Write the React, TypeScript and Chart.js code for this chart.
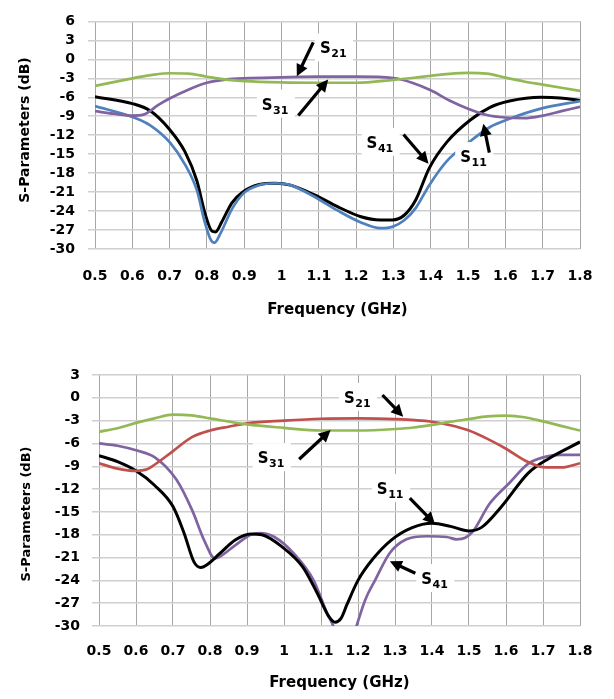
import React, { useEffect, useRef } from "react";
import { Chart, registerables } from "chart.js";

Chart.register(...registerables);

// ---------- shared axis ticks ----------
const X_TICK_VALUES = [0.5, 0.6, 0.7, 0.8, 0.9, 1.0, 1.1, 1.2, 1.3, 1.4, 1.5, 1.6, 1.7, 1.8];
const X_TICK_LABELS = ["0.5", "0.6", "0.7", "0.8", "0.9", "1", "1.1", "1.2", "1.3", "1.4", "1.5", "1.6", "1.7", "1.8"];

// ---------- top chart data ----------
const TOP_S31_F = [0.5, 0.55, 0.6, 0.65, 0.7, 0.75, 0.8, 0.85, 0.9, 1.0, 1.1, 1.2, 1.3, 1.35, 1.4, 1.45, 1.5, 1.55, 1.6, 1.65, 1.7, 1.75, 1.8];
const TOP_S31_DB = [-4.2, -3.6, -3.0, -2.5, -2.2, -2.25, -2.75, -3.2, -3.45, -3.65, -3.7, -3.7, -3.25, -2.95, -2.6, -2.3, -2.15, -2.25, -2.9, -3.5, -4.0, -4.5, -5.0];

const TOP_S21_F = [0.5, 0.55, 0.6, 0.63, 0.67, 0.7, 0.75, 0.8, 0.85, 0.9, 1.0, 1.1, 1.2, 1.3, 1.35, 1.4, 1.45, 1.5, 1.55, 1.6, 1.65, 1.7, 1.75, 1.8];
const TOP_S21_DB = [-8.2, -8.6, -8.9, -8.75, -7.2, -6.2, -4.8, -3.7, -3.2, -3.0, -2.85, -2.75, -2.75, -2.95, -3.7, -4.9, -6.5, -7.8, -8.8, -9.2, -9.3, -8.9, -8.2, -7.5];

const TOP_S11_F = [0.5, 0.6, 0.647, 0.7, 0.741, 0.773, 0.794, 0.809, 0.82, 0.835, 0.867, 0.898, 0.94, 0.982, 1.024, 1.087, 1.15, 1.213, 1.265, 1.297, 1.328, 1.36, 1.396, 1.443, 1.496, 1.559, 1.611, 1.695, 1.8];
const TOP_S11_DB = [-7.4, -9.1, -10.4, -13.1, -16.6, -20.7, -25.7, -28.4, -29.0, -27.7, -23.7, -21.2, -19.9, -19.6, -19.9, -21.7, -23.9, -25.8, -26.7, -26.5, -25.5, -23.5, -19.9, -16.1, -13.4, -10.7, -9.4, -7.8, -6.6];

const TOP_S41_F = [0.5, 0.6, 0.647, 0.7, 0.741, 0.773, 0.794, 0.814, 0.823, 0.84, 0.867, 0.898, 0.94, 0.982, 1.024, 1.087, 1.15, 1.213, 1.265, 1.297, 1.328, 1.36, 1.396, 1.443, 1.506, 1.559, 1.611, 1.695, 1.747, 1.8];
const TOP_S41_DB = [-5.9, -7.0, -8.1, -11.1, -14.6, -19.2, -24.2, -27.2, -27.3, -25.7, -22.7, -20.9, -19.8, -19.6, -19.9, -21.4, -23.3, -24.9, -25.4, -25.4, -24.7, -22.2, -17.2, -13.1, -9.6, -7.6, -6.6, -6.0, -6.1, -6.5];

const TOP_LABELS = ["21", "31", "41", "11"];
const TOP_LABEL_X = [1.103, 0.947, 1.228, 1.479];
const TOP_LABEL_Y = [1.88, -7.0, -13.05, -15.3];
const TOP_ARROW_X0 = [1.085, 1.045, 1.327, 1.557];
const TOP_ARROW_Y0 = [2.68, -8.87, -11.9, -14.75];
const TOP_ARROW_X1 = [1.041, 1.125, 1.394, 1.541];
const TOP_ARROW_Y1 = [-2.69, -3.2, -16.5, -10.2];

// ---------- bottom chart data ----------
const BOT_S31_F = [0.5, 0.55, 0.6, 0.65, 0.7, 0.75, 0.8, 0.9, 1.0, 1.1, 1.2, 1.3, 1.35, 1.4, 1.45, 1.5, 1.55, 1.6, 1.65, 1.7, 1.8];
const BOT_S31_DB = [-4.46, -4.0, -3.3, -2.7, -2.2, -2.3, -2.7, -3.5, -3.95, -4.3, -4.3, -4.1, -3.9, -3.55, -3.15, -2.8, -2.45, -2.35, -2.55, -3.1, -4.3];

const BOT_S21_F = [0.5, 0.55, 0.6, 0.63, 0.65, 0.7, 0.75, 0.8, 0.85, 0.9, 1.0, 1.1, 1.2, 1.3, 1.4, 1.45, 1.5, 1.55, 1.6, 1.65, 1.7, 1.75, 1.8];
const BOT_S21_DB = [-8.6, -9.3, -9.6, -9.4, -8.8, -7.0, -5.2, -4.3, -3.8, -3.35, -3.0, -2.75, -2.7, -2.8, -3.15, -3.6, -4.3, -5.4, -6.7, -8.2, -9.1, -9.15, -8.6];

const BOT_S11_F = [0.5, 0.55, 0.6, 0.65, 0.7, 0.73, 0.757, 0.775, 0.79, 0.826, 0.868, 0.91, 0.94, 0.995, 1.05, 1.09, 1.122, 1.138, 1.154, 1.17, 1.2, 1.24, 1.29, 1.345, 1.4, 1.45, 1.5, 1.535, 1.588, 1.66, 1.715, 1.8];
const BOT_S11_DB = [-7.6, -8.4, -9.6, -11.5, -14.3, -17.8, -21.6, -22.3, -22.0, -20.5, -18.7, -17.9, -18.0, -19.6, -22.2, -25.7, -28.8, -29.5, -29.0, -27.2, -24.0, -21.2, -18.7, -17.1, -16.5, -16.9, -17.5, -17.0, -14.3, -9.9, -8.0, -5.8];

const BOT_S41_F = [0.5, 0.55, 0.6, 0.65, 0.71, 0.752, 0.784, 0.813, 0.826, 0.868, 0.91, 0.935, 0.974, 1.027, 1.08, 1.117, 1.133, 1.165, 1.196, 1.22, 1.246, 1.286, 1.331, 1.385, 1.44, 1.466, 1.49, 1.51, 1.556, 1.609, 1.662, 1.715, 1.75, 1.8];
const BOT_S41_DB = [-6.0, -6.3, -6.9, -7.8, -10.8, -14.8, -18.7, -21.1, -20.9, -19.4, -18.0, -17.8, -18.3, -20.5, -24.0, -28.4, -30.0, -35.0, -30.0, -26.5, -24.0, -20.4, -18.6, -18.2, -18.3, -18.6, -18.4, -17.6, -13.9, -11.2, -8.6, -7.65, -7.5, -7.5];

const BOT_LABELS = ["21", "31", "11", "41"];
const BOT_LABEL_X = [1.162, 0.929, 1.251, 1.371];
const BOT_LABEL_Y = [0.11, -7.8, -11.86, -23.7];
const BOT_ARROW_X0 = [1.266, 1.041, 1.34, 1.355];
const BOT_ARROW_Y0 = [0.37, -8.08, -13.2, -23.07];
const BOT_ARROW_X1 = [1.322, 1.126, 1.408, 1.286];
const BOT_ARROW_Y1 = [-2.48, -4.23, -16.6, -21.5];

// ---------- styles ----------
const GREEN = "#93B955";
const PURPLE = "#8064A2";
const BLUE = "#4F81BD";
const RED = "#C0504D";
const BLACK = "#000000";
const FONT = "'DejaVu Sans', 'Verdana', sans-serif";

type Series = { f: number[]; db: number[]; color: string; width: number };
type Spec = {
  height: number;
  top: number;
  area: { left: number; right: number; top: number; bottom: number };
  yMin: number;
  yMax: number;
  xTickPad: number;
  yTickPad: number;
  xTitlePadBottom: number;
  yTitle: { x: number; y: number; size: number };
  series: Series[];
  labels: string[];
  lx: number[];
  ly: number[];
  ax0: number[];
  ay0: number[];
  ax1: number[];
  ay1: number[];
};

function drawArrow(ctx: CanvasRenderingContext2D, x0: number, y0: number, x1: number, y1: number) {
  const ang = Math.atan2(y1 - y0, x1 - x0);
  const head = 12;
  const hw = 6;
  const bx = x1 - head * Math.cos(ang);
  const by = y1 - head * Math.sin(ang);
  ctx.strokeStyle = "#000";
  ctx.fillStyle = "#000";
  ctx.lineWidth = 3.2;
  ctx.lineCap = "butt";
  ctx.beginPath();
  ctx.moveTo(x0, y0);
  ctx.lineTo(bx + 1 * Math.cos(ang), by + 1 * Math.sin(ang));
  ctx.stroke();
  ctx.beginPath();
  ctx.moveTo(x1, y1);
  ctx.lineTo(bx + hw * Math.sin(ang), by - hw * Math.cos(ang));
  ctx.lineTo(bx - hw * Math.sin(ang), by + hw * Math.cos(ang));
  ctx.closePath();
  ctx.fill();
}

function makeAnnotPlugin(spec: Spec) {
  return {
    id: "sparamAnnot",
    afterDatasetsDraw(chart: any) {
      const ctx: CanvasRenderingContext2D = chart.ctx;
      const xs = chart.scales.x;
      const ys = chart.scales.y;
      ctx.save();
      const items = spec.labels.map((sub, i) => {
        const px = xs.getPixelForValue(spec.lx[i]);
        const py = ys.getPixelForValue(spec.ly[i]);
        ctx.font = `bold 15px ${FONT}`;
        const wS = ctx.measureText("S").width;
        ctx.font = `bold 11px ${FONT}`;
        const wSub = ctx.measureText(sub).width;
        return { sub, px, py, wS, wSub };
      });
      ctx.fillStyle = "#fff";
      items.forEach((it) => {
        ctx.fillRect(it.px - 5, it.py - 14, it.wS + it.wSub + 12, 28);
      });
      spec.ax0.forEach((_, i) => {
        drawArrow(
          ctx,
          xs.getPixelForValue(spec.ax0[i]),
          ys.getPixelForValue(spec.ay0[i]),
          xs.getPixelForValue(spec.ax1[i]),
          ys.getPixelForValue(spec.ay1[i])
        );
      });
      ctx.fillStyle = "#000";
      ctx.textAlign = "left";
      ctx.textBaseline = "alphabetic";
      items.forEach((it) => {
        ctx.font = `bold 15px ${FONT}`;
        ctx.fillText("S", it.px, it.py + 6);
        ctx.font = `bold 11px ${FONT}`;
        ctx.fillText(it.sub, it.px + it.wS + 0.5, it.py + 10);
      });
      ctx.restore();
    },
    afterDraw(chart: any) {
      const ctx: CanvasRenderingContext2D = chart.ctx;
      ctx.save();
      ctx.translate(spec.yTitle.x, spec.yTitle.y);
      ctx.rotate(-Math.PI / 2);
      ctx.font = `bold ${spec.yTitle.size}px ${FONT}`;
      ctx.fillStyle = "#000";
      ctx.textAlign = "center";
      ctx.textBaseline = "middle";
      ctx.fillText("S-Parameters (dB)", 0, 0);
      ctx.restore();
    },
  };
}

function buildConfig(spec: Spec): any {
  const tickFont = { family: FONT, size: 14, weight: "bold" as const };
  return {
    type: "line",
    data: {
      datasets: spec.series.map((s) => ({
        data: s.f.map((f, i) => ({ x: f, y: s.db[i] })),
        borderColor: s.color,
        backgroundColor: s.color,
        borderWidth: s.width,
        pointRadius: 0,
        fill: false,
        cubicInterpolationMode: "monotone",
      })),
    },
    options: {
      animation: false,
      responsive: false,
      devicePixelRatio: 1,
      events: [],
      layout: {
        padding: { left: 0, right: 614 - spec.area.right, top: spec.area.top, bottom: 0 },
      },
      plugins: { legend: { display: false }, tooltip: { enabled: false } },
      scales: {
        x: {
          type: "linear",
          min: 0.5,
          max: 1.8,
          afterBuildTicks: (s: any) => {
            s.ticks = X_TICK_VALUES.map((v) => ({ value: v }));
          },
          afterFit: (s: any) => {
            s.height = spec.height - spec.area.bottom;
          },
          ticks: {
            autoSkip: false,
            maxRotation: 0,
            padding: spec.xTickPad,
            font: tickFont,
            color: "#000",
            callback: (_v: any, i: number) => X_TICK_LABELS[i],
          },
          grid: { color: "#A6A6A6", lineWidth: 1, drawTicks: false },
          border: { display: false },
          title: {
            display: true,
            text: "Frequency (GHz)",
            color: "#000",
            font: { family: FONT, size: 15, weight: "bold" },
            padding: { top: 0, bottom: spec.xTitlePadBottom },
          },
        },
        y: {
          type: "linear",
          min: spec.yMin,
          max: spec.yMax,
          afterFit: (s: any) => {
            s.width = spec.area.left;
          },
          ticks: { stepSize: 3, autoSkip: false, padding: spec.yTickPad, font: tickFont, color: "#000" },
          grid: { color: "#CFCFCF", lineWidth: 1.5, tickLength: 7 },
          border: { display: false },
        },
      },
    },
    plugins: [makeAnnotPlugin(spec)],
  };
}

const TOP_SPEC: Spec = {
  height: 340,
  top: 0,
  area: { left: 95, right: 580, top: 11, bottom: 249 },
  yMin: -30,
  yMax: 6,
  xTickPad: 19,
  yTickPad: 13,
  xTitlePadBottom: 21,
  yTitle: { x: 25, y: 130, size: 14 },
  series: [
    { f: TOP_S31_F, db: TOP_S31_DB, color: GREEN, width: 2.7 },
    { f: TOP_S21_F, db: TOP_S21_DB, color: PURPLE, width: 2.7 },
    { f: TOP_S11_F, db: TOP_S11_DB, color: BLUE, width: 2.7 },
    { f: TOP_S41_F, db: TOP_S41_DB, color: BLACK, width: 3 },
  ],
  labels: TOP_LABELS,
  lx: TOP_LABEL_X,
  ly: TOP_LABEL_Y,
  ax0: TOP_ARROW_X0,
  ay0: TOP_ARROW_Y0,
  ax1: TOP_ARROW_X1,
  ay1: TOP_ARROW_Y1,
};

const BOT_SPEC: Spec = {
  height: 349,
  top: 350,
  area: { left: 99, right: 580, top: 25, bottom: 276 },
  yMin: -30,
  yMax: 3,
  xTickPad: 17,
  yTickPad: 12,
  xTitlePadBottom: 7,
  yTitle: { x: 27, y: 164, size: 13 },
  series: [
    { f: BOT_S31_F, db: BOT_S31_DB, color: GREEN, width: 2.7 },
    { f: BOT_S21_F, db: BOT_S21_DB, color: RED, width: 2.7 },
    { f: BOT_S11_F, db: BOT_S11_DB, color: BLACK, width: 3 },
    { f: BOT_S41_F, db: BOT_S41_DB, color: PURPLE, width: 2.7 },
  ],
  labels: BOT_LABELS,
  lx: BOT_LABEL_X,
  ly: BOT_LABEL_Y,
  ax0: BOT_ARROW_X0,
  ay0: BOT_ARROW_Y0,
  ax1: BOT_ARROW_X1,
  ay1: BOT_ARROW_Y1,
};

function SParamChart({ spec }: { spec: Spec }) {
  const ref = useRef<HTMLCanvasElement>(null);
  useEffect(() => {
    if (!ref.current) return;
    const chart = new Chart(ref.current, buildConfig(spec));
    return () => chart.destroy();
  }, [spec]);
  return (
    <canvas
      ref={ref}
      width={614}
      height={spec.height}
      style={{ position: "absolute", left: 0, top: spec.top, width: 614, height: spec.height }}
    />
  );
}

export default function App() {
  return (
    <div style={{ position: "absolute", left: 0, top: 0, width: 614, height: 699, background: "#fff", overflow: "hidden" }}>
      <SParamChart spec={TOP_SPEC} />
      <SParamChart spec={BOT_SPEC} />
    </div>
  );
}
